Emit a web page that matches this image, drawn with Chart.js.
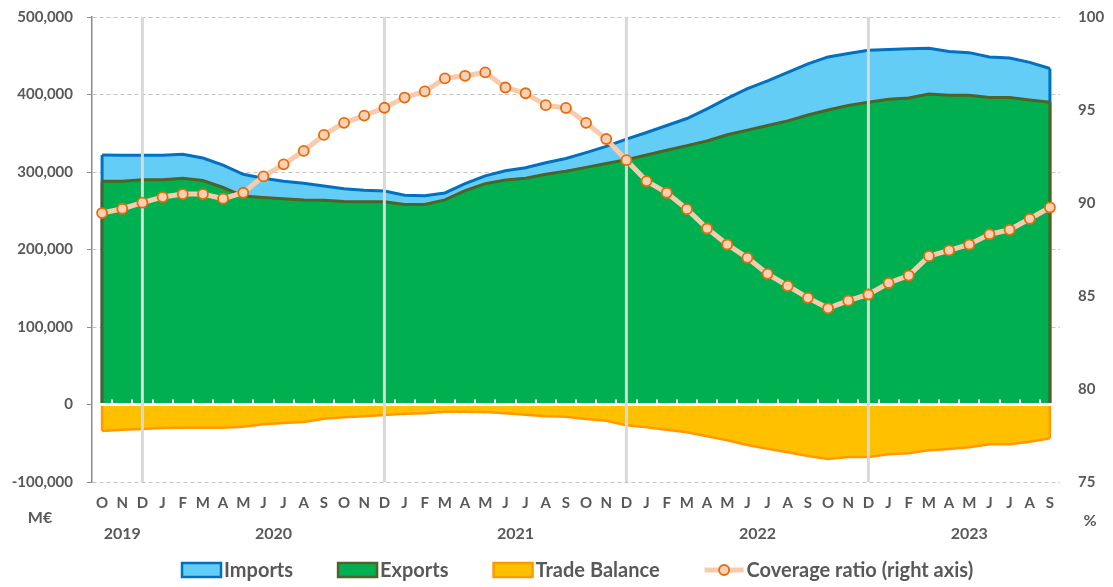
<!DOCTYPE html>
<html>
<head>
<meta charset="utf-8">
<script src="https://cdn.jsdelivr.net/npm/chart.js@4.4.1/dist/chart.umd.min.js"></script>
<style>
  html, body { margin: 0; padding: 0; background: #fff; }
  canvas { display: block; }
</style>
</head>
<body>
<canvas id="tradeChart" width="1113" height="587"></canvas>
<script>
// Mois (oct 2019 -> sept 2023)
const monthLabels = [
    'O','N','D',
    'J','F','M','A','M','J','J','A','S','O','N','D',
    'J','F','M','A','M','J','J','A','S','O','N','D',
    'J','F','M','A','M','J','J','A','S','O','N','D',
    'J','F','M','A','M','J','J','A','S'
];
const yearLabels = ['2019', '2020', '2021', '2022', '2023'];

// M€
const imports = [
    322000, 321500, 321500, 321500, 323000, 318000, 309000, 297000, 292000, 288000, 285500, 282000,
    278500, 276500, 275500, 270000, 269500, 273000, 285000, 295000, 301500, 305500, 312000, 317500,
    325000, 333000, 342500, 351000, 360000, 369000, 381500, 395000, 407500, 417500, 428500, 439500,
    448500, 453000, 457000, 458000, 459000, 459700, 455500, 454000, 448500, 447000, 441500, 433500
];
const exports = [
    288000, 288000, 290000, 290000, 292000, 289000, 280000, 269000, 267000, 265500, 264000, 263500,
    262000, 261500, 261500, 258000, 258000, 264000, 276000, 285000, 289700, 292000, 297000, 301000,
    306000, 311000, 316000, 322000, 328000, 334000, 340000, 348000, 354000, 360000, 366000, 373500,
    380000, 386000, 390000, 394000, 395500, 400600, 399000, 399000, 396000, 396000, 393000, 390000
];
const tradeBalance = [
    -34200, -32500, -31600, -30300, -29900, -29900, -29900, -28600, -25600, -23900, -22600, -18300,
    -16500, -15200, -13500, -11800, -11400, -9200, -9200, -9600, -11400, -13100, -15200, -15700,
    -18700, -20900, -26900, -29400, -32500, -35900, -41000, -46200, -52300, -57000, -61700, -66500,
    -70300, -67700, -67700, -64300, -63000, -59100, -57400, -55200, -51400, -51400, -48000, -43600
];
// %
const coverageRatio = [
    89.46, 89.69, 90.02, 90.32, 90.48, 90.48, 90.23, 90.55, 91.43, 92.08, 92.80, 93.66,
    94.31, 94.70, 95.12, 95.67, 96.00, 96.70, 96.84, 97.02, 96.21, 95.90, 95.26, 95.11,
    94.31, 93.44, 92.30, 91.18, 90.55, 89.67, 88.63, 87.77, 87.05, 86.19, 85.54, 84.90,
    84.34, 84.75, 85.08, 85.70, 86.10, 87.14, 87.45, 87.77, 88.32, 88.56, 89.15, 89.76
];

const textColor = '#595959';
const fontFamily = 'Lato, "Open Sans", sans-serif';

//Plugin : bords des aires, ligne du zéro, séparateurs d'années, libellés
const decorPlugin = {
    id: 'decor',
    afterDatasetDraw(chart, args) {
        const ds = chart.data.datasets[args.index];
        if (!ds.fill) return;
        const ctx = chart.ctx;
        const pts = args.meta.data;
        const y0 = chart.scales.y.getPixelForValue(0);
        ctx.save();
        ctx.strokeStyle = ds.borderColor;
        ctx.lineWidth = ds.borderWidth;
        [pts[0], pts[pts.length - 1]].forEach(p => {
            ctx.beginPath();
            ctx.moveTo(p.x, p.y);
            ctx.lineTo(p.x, y0);
            ctx.stroke();
        });
        ctx.restore();
    },
    beforeDatasetDraw(chart, args) {
        if (chart.data.datasets[args.index].fill) return;
        const ctx = chart.ctx;
        const area = chart.chartArea;
        const x = chart.scales.x;
        const y0 = chart.scales.y.getPixelForValue(0);

        //ligne du zéro blanche + petites graduations
        ctx.save();
        ctx.strokeStyle = '#ffffff';
        ctx.lineWidth = 3;
        ctx.beginPath();
        ctx.moveTo(area.left + 1, y0);
        ctx.lineTo(area.right, y0);
        ctx.stroke();
        ctx.lineWidth = 2;
        for (let i = 0; i < monthLabels.length - 1; i++) {
            const xm = Math.round((x.getPixelForValue(i) + x.getPixelForValue(i + 1)) / 2);
            ctx.beginPath();
            ctx.moveTo(xm, y0);
            ctx.lineTo(xm, y0 - 5);
            ctx.stroke();
        }

        //séparateurs gris en décembre
        ctx.strokeStyle = '#d9d9d9';
        ctx.lineWidth = 3;
        monthLabels.forEach((m, i) => {
            if (m !== 'D') return;
            const xd = x.getPixelForValue(i);
            ctx.beginPath();
            ctx.moveTo(xd, area.top);
            ctx.lineTo(xd, area.bottom);
            ctx.stroke();
        });
        ctx.restore();
    },
    afterDraw(chart) {
        const ctx = chart.ctx;
        const x = chart.scales.x;
        ctx.save();
        ctx.fillStyle = textColor;
        ctx.textAlign = 'center';
        ctx.textBaseline = 'middle';

        //années centrées sur leurs mois
        ctx.font = 'bold 16px ' + fontFamily;
        let start = 0, g = 0;
        monthLabels.forEach((m, i) => {
            if (m === 'D' || i === monthLabels.length - 1) {
                const xc = (x.getPixelForValue(start) + x.getPixelForValue(i)) / 2;
                ctx.fillText(yearLabels[g], xc, 534);
                g++;
                start = i + 1;
            }
        });

        //unités
        ctx.fillText('M€', 40, 518);
        ctx.fillText('%', 1090, 521);

        //légende
        ctx.font = 'bold 20px ' + fontFamily;
        ctx.textAlign = 'left';
        let lx = 182;
        const ly = 570;
        chart.data.datasets.forEach(ds => {
            if (ds.fill) {
                ctx.fillStyle = ds.backgroundColor;
                ctx.fillRect(lx, ly - 7, 39, 14);
                ctx.strokeStyle = ds.borderColor;
                ctx.lineWidth = 2.5;
                ctx.strokeRect(lx, ly - 7, 39, 14);
            } else {
                ctx.strokeStyle = ds.borderColor;
                ctx.lineWidth = 5;
                ctx.beginPath();
                ctx.moveTo(lx, ly);
                ctx.lineTo(lx + 39, ly);
                ctx.stroke();
                ctx.beginPath();
                ctx.arc(lx + 19.5, ly, 5, 0, Math.PI * 2);
                ctx.fillStyle = ds.pointBackgroundColor;
                ctx.fill();
                ctx.strokeStyle = ds.pointBorderColor;
                ctx.lineWidth = 1.8;
                ctx.stroke();
            }
            lx += 42;
            ctx.fillStyle = textColor;
            ctx.fillText(ds.label, lx, ly + 1);
            lx += ctx.measureText(ds.label).width + 45;
        });
        ctx.restore();
    }
};

//marges des axes verticaux : on garde la zone de tracé fixe
function fitVertical(width) {
    return scale => {
        scale.width = width;
        scale.paddingTop = 0;
        scale.paddingBottom = 0;
    };
}

const ctx = document.getElementById('tradeChart').getContext('2d');
const tradeChart = new Chart(ctx, {
    type: 'line',
    data: {
        labels: monthLabels,
        datasets: [{
            label: 'Imports',
            data: imports,
            yAxisID: 'y',
            fill: 'origin',
            backgroundColor: '#64CDF6',
            borderColor: '#0070C0',
            borderWidth: 3,
            pointRadius: 0,
            tension: 0,
            order: 3
        }, {
            label: 'Exports',
            data: exports,
            yAxisID: 'y',
            fill: 'origin',
            backgroundColor: '#00B050',
            borderColor: '#4F6228',
            borderWidth: 3,
            pointRadius: 0,
            tension: 0,
            order: 2
        }, {
            label: 'Trade Balance',
            data: tradeBalance,
            yAxisID: 'y',
            fill: 'origin',
            backgroundColor: '#FFC000',
            borderColor: '#FF9900',
            borderWidth: 2.5,
            pointRadius: 0,
            tension: 0,
            order: 1
        }, {
            label: 'Coverage ratio (right axis)',
            data: coverageRatio,
            yAxisID: 'y1',
            fill: false,
            borderColor: '#F8CBAD',
            borderWidth: 5,
            pointRadius: 5,
            pointBackgroundColor: '#FAD1B4',
            pointBorderColor: '#E46C0A',
            pointBorderWidth: 1.8,
            tension: 0,
            order: 0
        }]
    },
    options: {
        responsive: false,
        animation: false,
        layout: { padding: { top: 17, left: 0, right: 0, bottom: 0 } },
        plugins: {
            legend: { display: false },
            tooltip: { enabled: false }
        },
        scales: {
            x: {
                offset: true,
                grid: { display: false },
                border: { display: false },
                ticks: {
                    autoSkip: false,
                    maxRotation: 0,
                    padding: 4,
                    color: textColor,
                    font: { family: fontFamily, size: 15, weight: 'bold' }
                },
                afterFit(scale) { scale.height = 105; }
            },
            y: {
                position: 'left',
                min: -100000,
                max: 500000,
                ticks: {
                    stepSize: 100000,
                    padding: 14,
                    color: textColor,
                    font: { family: fontFamily, size: 15, weight: 'bold' },
                    callback: v => v.toLocaleString('en-US')
                },
                grid: {
                    color: c => (c.tick && c.tick.value === 0) ? 'rgba(0,0,0,0)' : '#c4c4c4',
                    tickColor: '#8c8c8c',
                    tickLength: 5,
                    lineWidth: 1
                },
                border: { display: true, color: '#8c8c8c', width: 1.5, dash: [4, 3] },
                afterFit: fitVertical(92)
            },
            y1: {
                position: 'right',
                min: 75,
                max: 100,
                ticks: {
                    stepSize: 5,
                    padding: 18,
                    color: textColor,
                    font: { family: fontFamily, size: 15, weight: 'bold' }
                },
                grid: { display: false, drawTicks: false },
                border: { display: false },
                afterFit: fitVertical(53)
            }
        }
    },
    plugins: [decorPlugin]
});
</script>
</body>
</html>
